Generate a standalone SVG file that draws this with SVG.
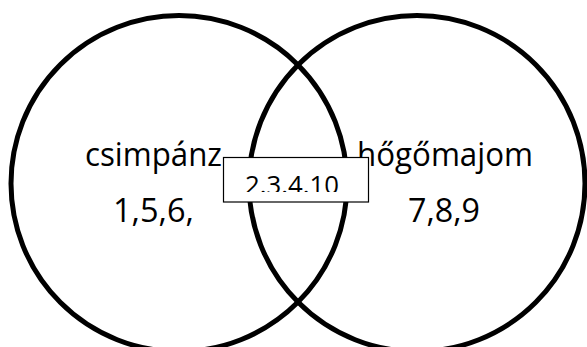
<svg xmlns="http://www.w3.org/2000/svg" width="587" height="347" viewBox="0 0 587 347">
<style>
.set{fill:none;stroke:#000;stroke-width:5}
.lbl{font-family:"Open Sans","Liberation Sans",sans-serif;font-size:32px;fill:#000}
.box{fill:#fff;stroke:#000;stroke-width:1.2}
.boxt{font-family:"Open Sans","Liberation Sans",sans-serif;font-size:26px;fill:#000}
</style>
<defs>
<clipPath id="boxclip"><rect x="224" y="158" width="144" height="34"/></clipPath>
</defs>
<rect width="587" height="347" fill="#fff"/>
<g id="connectors"></g>
<g id="set-left">
<circle class="set" cx="179" cy="183.5" r="168"/>
<text class="lbl" x="85" y="166" textLength="137" lengthAdjust="spacingAndGlyphs">csimpánz</text>
<text class="lbl" x="113" y="222" textLength="81" lengthAdjust="spacingAndGlyphs">1,5,6,</text>
</g>
<g id="set-right">
<circle class="set" cx="417" cy="183.5" r="168"/>
<text class="lbl" x="357" y="166" textLength="176" lengthAdjust="spacingAndGlyphs">hőgőmajom</text>
<text class="lbl" x="408" y="222" textLength="72" lengthAdjust="spacingAndGlyphs">7,8,9</text>
</g>
<g id="intersection">
<rect class="box" x="223.5" y="157.5" width="145" height="44.5"/>
<text class="boxt" x="245" y="194" textLength="94" lengthAdjust="spacingAndGlyphs" clip-path="url(#boxclip)">2.3.4.10</text>
</g>
</svg>
